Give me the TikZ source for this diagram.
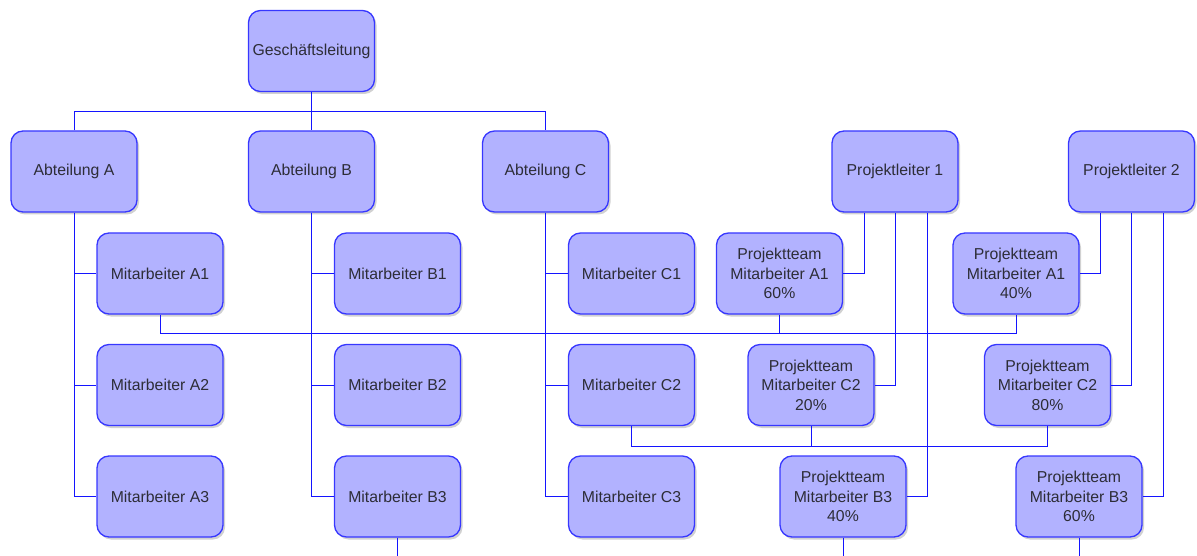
\documentclass[tikz,border=0pt]{standalone}
\usepackage{fontspec}
\setmainfont{Liberation Sans}
\usetikzlibrary{shadows,calc}

\definecolor{boxfill}{RGB}{178,178,255}
\definecolor{boxdraw}{RGB}{55,55,255}
\definecolor{wire}{RGB}{20,20,255}
\definecolor{txt}{RGB}{45,45,55}

\tikzset{
  orgbox/.style={draw=boxdraw, line width=1.3pt, fill=boxfill, rounded corners=12pt,
    minimum width=126pt, minimum height=81pt, inner sep=0pt, align=center,
    text=txt, font=\fontsize{15.8}{19.5}\selectfont,
    drop shadow={shadow xshift=2pt, shadow yshift=-2.5pt, opacity=0.3, fill=black!60}},
  wire/.style={draw=wire, line width=1pt},
}

\begin{document}
\begin{tikzpicture}[x=1pt, y=-1pt]
  \useasboundingbox (0,0) rectangle (1197,556);

  % management and departments
  \node[orgbox] (gl) at (311.5,51) {Geschäftsleitung};
  \node[orgbox] (aa) at (74,171.5) {Abteilung A};
  \node[orgbox] (ab) at (311.5,171.5) {Abteilung B};
  \node[orgbox] (ac) at (545.5,171.5) {Abteilung C};
  \node[orgbox] (pl1) at (895,171.5) {Projektleiter 1};
  \node[orgbox] (pl2) at (1131.5,171.5) {Projektleiter 2};

  % staff
  \node[orgbox] (ma1) at (160,273.5) {Mitarbeiter A1};
  \node[orgbox] (ma2) at (160,385) {Mitarbeiter A2};
  \node[orgbox] (ma3) at (160,496.5) {Mitarbeiter A3};
  \node[orgbox] (mb1) at (397.5,273.5) {Mitarbeiter B1};
  \node[orgbox] (mb2) at (397.5,385) {Mitarbeiter B2};
  \node[orgbox] (mb3) at (397.5,496.5) {Mitarbeiter B3};
  \node[orgbox] (mc1) at (631.5,273.5) {Mitarbeiter C1};
  \node[orgbox] (mc2) at (631.5,385) {Mitarbeiter C2};
  \node[orgbox] (mc3) at (631.5,496.5) {Mitarbeiter C3};

  % project team shares
  \node[orgbox] (pa1a) at (779.5,273.5) {Projektteam\\Mitarbeiter A1\\60\%};
  \node[orgbox] (pa1b) at (1016,273.5) {Projektteam\\Mitarbeiter A1\\40\%};
  \node[orgbox] (pc2a) at (811,385) {Projektteam\\Mitarbeiter C2\\20\%};
  \node[orgbox] (pc2b) at (1047.5,385) {Projektteam\\Mitarbeiter C2\\80\%};
  \node[orgbox] (pb3a) at (843,496.5) {Projektteam\\Mitarbeiter B3\\40\%};
  \node[orgbox] (pb3b) at (1079,496.5) {Projektteam\\Mitarbeiter B3\\60\%};

  % free ends at the lower edge
  \coordinate (eb3) at (397.5,556);
  \coordinate (eb3a) at (843,556);
  \coordinate (eb3b) at (1079,556);

  % management bus
  \draw[wire] (aa.north) -- ++(0,-18.5) -| (ac.north);
  \draw[wire] (gl.south) -- (ab.north);

  % department spines
  \foreach \d/\m in {aa/ma1,aa/ma2,aa/ma3,ab/mb1,ab/mb2,ab/mb3,ac/mc1,ac/mc2,ac/mc3}
    \draw[wire] (\d.south) |- (\m.west);

  % staff to project shares
  \draw[wire] (ma1.south) |- ($(pa1b.south)+(0,19)$) -- (pa1b.south);
  \draw[wire] (pa1a.south) -- ++(0,19);
  \draw[wire] (mc2.south) |- ($(pc2b.south)+(0,20)$) -- (pc2b.south);
  \draw[wire] (pc2a.south) -- ++(0,20);
  \draw[wire] (mb3.south) -- (eb3);
  \draw[wire] (pb3a.south) -- (eb3a);
  \draw[wire] (pb3b.south) -- (eb3b);

  % project leads to their team shares
  \draw[wire] ([xshift=-31pt]pl1.south) |- (pa1a.east);
  \draw[wire] (pl1.south) |- (pc2a.east);
  \draw[wire] ([xshift=32pt]pl1.south) |- (pb3a.east);
  \draw[wire] ([xshift=-31.5pt]pl2.south) |- (pa1b.east);
  \draw[wire] (pl2.south) |- (pc2b.east);
  \draw[wire] ([xshift=31.5pt]pl2.south) |- (pb3b.east);
\end{tikzpicture}
\end{document}
